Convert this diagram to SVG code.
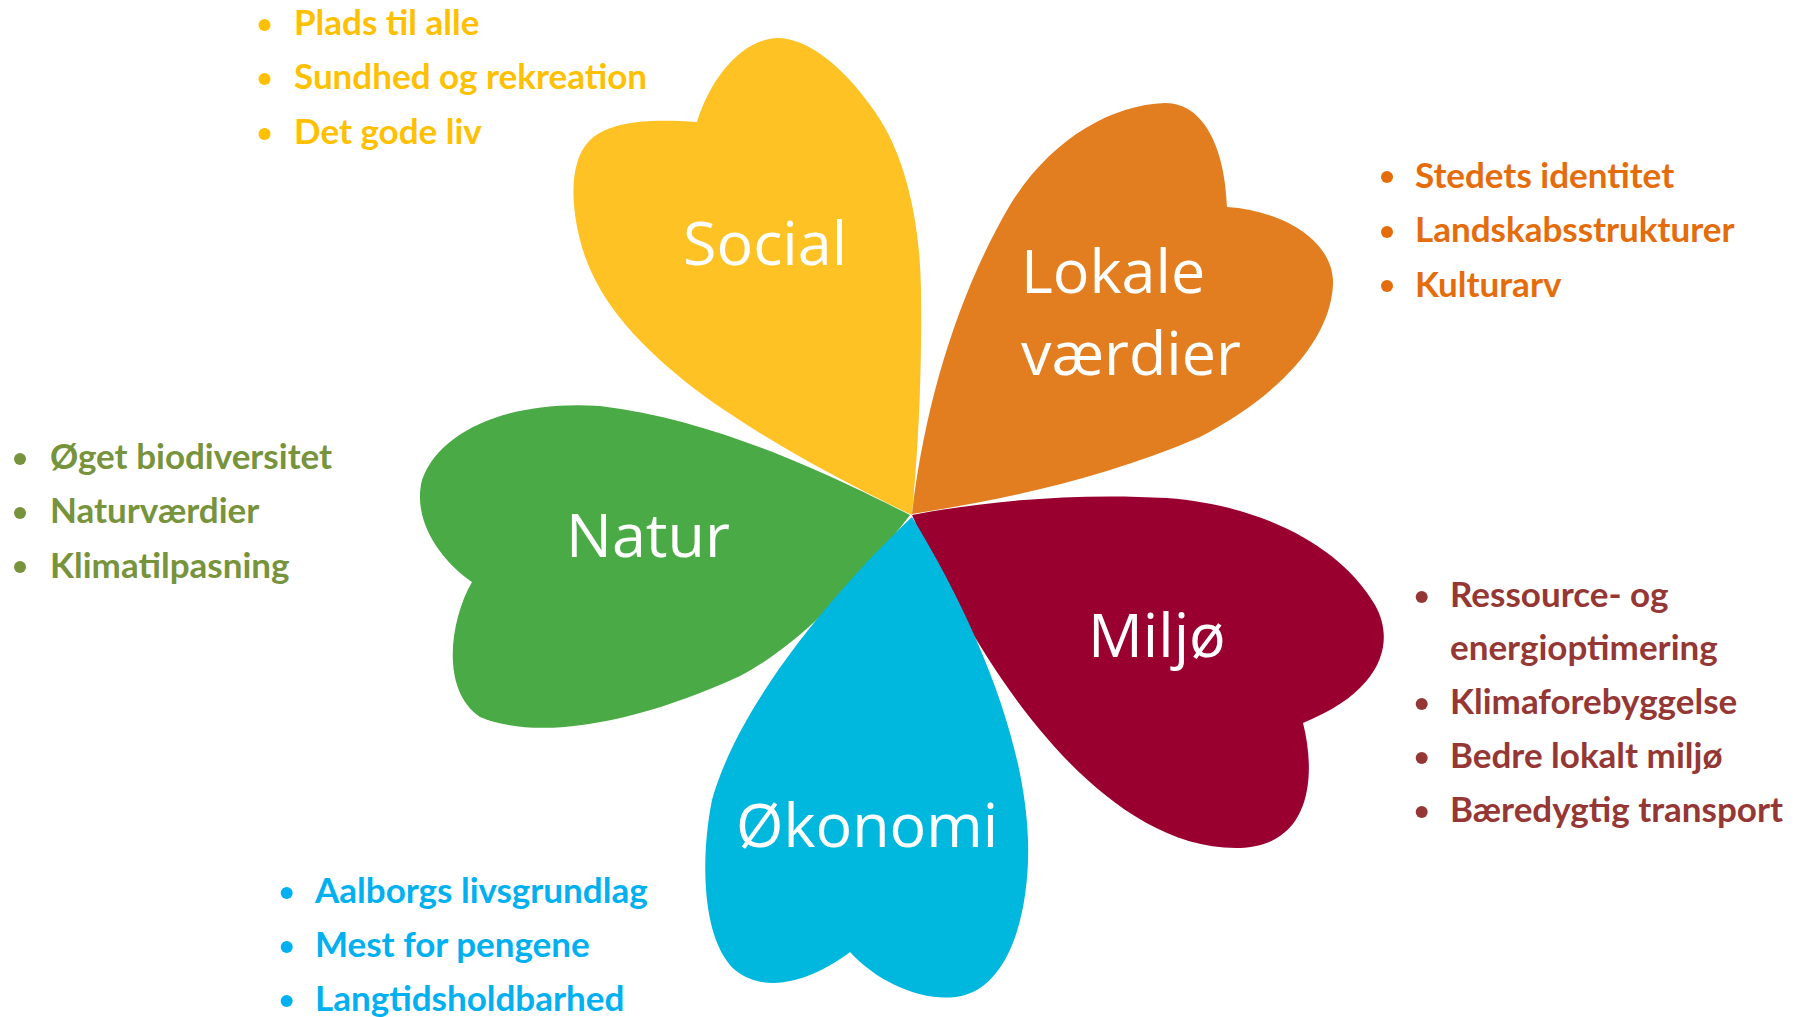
<svg xmlns="http://www.w3.org/2000/svg" width="1795" height="1017" viewBox="0 0 1795 1017">
<style>
.label{font-family:"Open Sans","Noto Sans",sans-serif;font-size:61px;fill:#ffffff}
.item{font-family:Lato,"Liberation Sans",sans-serif;font-weight:700;font-size:35px}
.y{fill:#FFC000}.o{fill:#E46C0A}.g{fill:#77933C}.r{fill:#953735}.b{fill:#00B0F0}
</style>
<rect width="1795" height="1017" fill="#ffffff"/>
<g id="connectors"/>
<g id="node-natur">
<path fill="#4AAA45" d="M 910 515 C 840 480, 720 420, 600 406 C 510 400, 440 430, 422 480 C 412 520, 440 560, 472 582 C 450 620, 440 690, 480 717 C 540 742, 640 722, 740 676 C 800 645, 860 580, 910 515 Z"/>
<text class="label" x="566" y="557">Natur</text>
<g class="g"><circle cx="20" cy="459" r="6"/><circle cx="20" cy="513" r="6"/><circle cx="20" cy="567" r="6"/></g>
<text class="item g" x="50" y="469">Øget biodiversitet</text>
<text class="item g" x="50" y="523">Naturværdier</text>
<text class="item g" x="50" y="578">Klimatilpasning</text>
</g>
<g id="node-social">
<path fill="#FEC224" d="M 912 515 C 870 495, 760 440, 687 383 C 640 345, 595 300, 580 240 C 570 200, 570 160, 590 140 C 615 118, 660 120, 697 122 C 710 80, 740 40, 777 38 C 810 38, 845 70, 870 105 C 905 150, 920 220, 921 290 C 922 380, 918 450, 912 515 Z"/>
<text class="label" x="683" y="265">Social</text>
<g class="y"><circle cx="264.5" cy="25" r="6"/><circle cx="264.5" cy="79" r="6"/><circle cx="264.5" cy="134" r="6"/></g>
<text class="item y" x="294" y="35">Plads til alle</text>
<text class="item y" x="294" y="89">Sundhed og rekreation</text>
<text class="item y" x="294" y="144">Det gode liv</text>
</g>
<g id="node-lokale">
<path fill="#E27E20" d="M 912 514 C 925 400, 960 290, 1010 205 C 1050 140, 1110 105, 1165 103 C 1205 103, 1225 150, 1227 207 C 1280 210, 1335 240, 1333 285 C 1330 340, 1280 395, 1200 437 C 1100 480, 1000 500, 912 514 Z"/>
<text class="label" x="1021" y="293">Lokale</text>
<text class="label" x="1021" y="375">værdier</text>
<g class="o"><circle cx="1387" cy="177" r="6"/><circle cx="1387" cy="232" r="6"/><circle cx="1387" cy="286" r="6"/></g>
<text class="item o" x="1415" y="188">Stedets identitet</text>
<text class="item o" x="1415" y="242">Landskabsstrukturer</text>
<text class="item o" x="1415" y="297">Kulturarv</text>
</g>
<g id="node-miljo">
<path fill="#990030" d="M 912 515 C 990 500, 1080 493, 1167 498 C 1260 505, 1340 545, 1375 605 C 1395 640, 1385 690, 1303 723 C 1315 770, 1315 845, 1240 848 C 1160 850, 1090 790, 1040 730 C 990 670, 945 590, 912 515 Z"/>
<text class="label" x="1088" y="657">Miljø</text>
<g class="r"><circle cx="1421.7" cy="597" r="6"/><circle cx="1421.7" cy="704" r="6"/><circle cx="1421.7" cy="758" r="6"/><circle cx="1421.7" cy="812" r="6"/></g>
<text class="item r" x="1450" y="607">Ressource- og</text>
<text class="item r" x="1450" y="660">energioptimering</text>
<text class="item r" x="1450" y="714">Klimaforebyggelse</text>
<text class="item r" x="1450" y="768">Bedre lokalt miljø</text>
<text class="item r" x="1450" y="822">Bæredygtig transport</text>
</g>
<g id="node-okonomi">
<path fill="#00B7DD" d="M 912 517 C 840 585, 740 700, 712 800 C 700 860, 702 940, 735 970 C 770 998, 820 975, 850 952 C 880 985, 930 1005, 965 995 C 1015 980, 1030 900, 1028 840 C 1025 740, 975 620, 912 517 Z"/>
<text class="label" x="736" y="847">Økonomi</text>
<g class="b"><circle cx="286.7" cy="893" r="6"/><circle cx="286.7" cy="947" r="6"/><circle cx="286.7" cy="1001" r="6"/></g>
<text class="item b" x="315" y="903">Aalborgs livsgrundlag</text>
<text class="item b" x="315" y="957">Mest for pengene</text>
<text class="item b" x="315" y="1011">Langtidsholdbarhed</text>
</g>
</svg>
